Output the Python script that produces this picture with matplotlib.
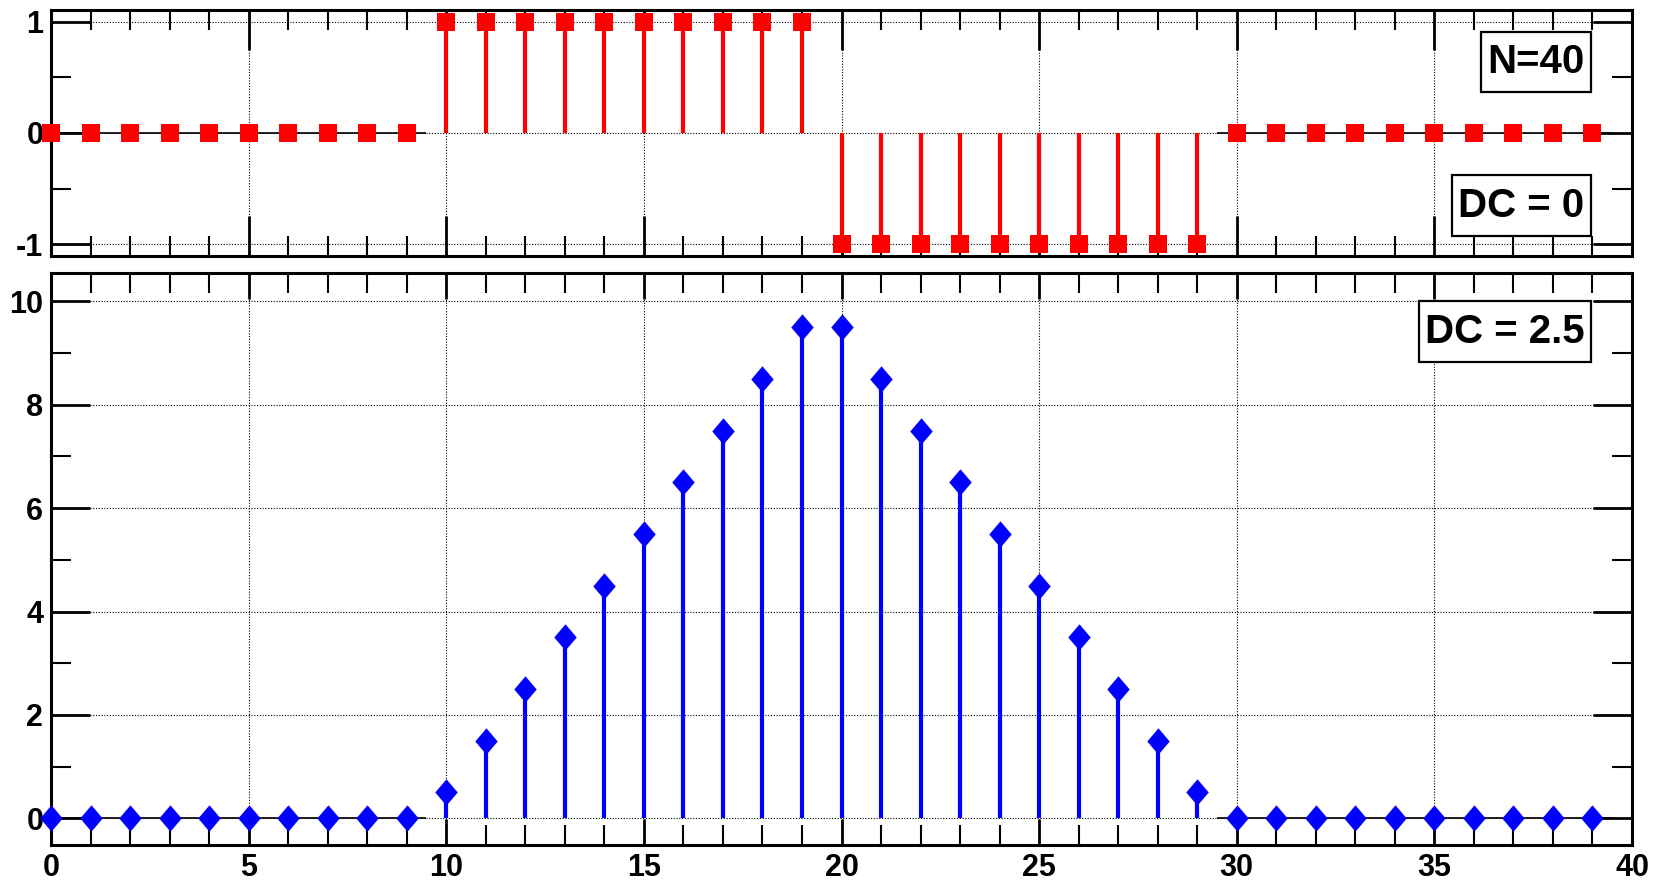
import matplotlib.pyplot as plt
from matplotlib.patches import Rectangle
from matplotlib.ticker import MultipleLocator

plt.rcParams['font.family'] = ['Liberation Sans', 'DejaVu Sans']
plt.rcParams['font.weight'] = 'bold'
plt.rcParams['axes.unicode_minus'] = False

# sample index and the two sequences
n = list(range(40))
pulse = [0, 0, 0, 0, 0, 0, 0, 0, 0, 0,
         1, 1, 1, 1, 1, 1, 1, 1, 1, 1,
         -1, -1, -1, -1, -1, -1, -1, -1, -1, -1,
         0, 0, 0, 0, 0, 0, 0, 0, 0, 0]
tri = [0, 0, 0, 0, 0, 0, 0, 0, 0, 0,
       0.5, 1.5, 2.5, 3.5, 4.5, 5.5, 6.5, 7.5, 8.5, 9.5,
       9.5, 8.5, 7.5, 6.5, 5.5, 4.5, 3.5, 2.5, 1.5, 0.5,
       0, 0, 0, 0, 0, 0, 0, 0, 0, 0]
top_labels = ['N=40', 'DC = 0']
bottom_labels = ['DC = 2.5']

W, H = 1661, 880
fig = plt.figure(figsize=(W / 100, H / 100), dpi=100)


def px_axes(x0, y0, x1, y1):
    # pixel box (from top-left) -> figure axes
    return fig.add_axes([x0 / W, 1 - y1 / H, (x1 - x0) / W, (y1 - y0) / H])


ax1 = px_axes(51, 10, 1632, 256)
ax2 = px_axes(51, 273, 1632, 845)


def style(ax, ymajor, yminor, xmaj_len, xmin_len):
    ax.set_xlim(0, 40)
    ax.xaxis.set_major_locator(MultipleLocator(5))
    ax.xaxis.set_minor_locator(MultipleLocator(1))
    ax.yaxis.set_major_locator(MultipleLocator(ymajor))
    ax.yaxis.set_minor_locator(MultipleLocator(yminor))
    ax.tick_params(axis='x', which='major', direction='in', top=True, bottom=True,
                   length=xmaj_len * 0.72, width=2.0, labelsize=22, pad=5.5)
    ax.tick_params(axis='x', which='minor', direction='in', top=True, bottom=True,
                   length=xmin_len * 0.72, width=1.5)
    ax.tick_params(axis='y', which='major', direction='in', left=True, right=True,
                   length=39 * 0.72, width=2.0, labelsize=22, pad=5.5)
    ax.tick_params(axis='y', which='minor', direction='in', left=True, right=True,
                   length=20 * 0.72, width=1.5)
    for s in ax.spines.values():
        s.set_linewidth(2.2)
    ax.grid(True, which='major', color='black', linestyle=(0, (1, 1.5)), linewidth=0.8)
    ax.set_axisbelow(True)


def label_box(ax, x0, y0, x1, y1, text):
    ax.add_patch(Rectangle((x0, y0), x1 - x0, y1 - y0, transform=ax.transAxes,
                           facecolor='white', edgecolor='black', linewidth=1.6, zorder=6))
    ax.text((x0 + x1) / 2, (y0 + y1) / 2, text, transform=ax.transAxes,
            ha='center', va='center', fontsize=29, fontweight='bold', zorder=7)


def zero_segments(ax, xs, ys):
    zx = [x for x, y in zip(xs, ys) if y == 0]
    ax.hlines([0] * len(zx), [x - 0.5 for x in zx], [x + 0.5 for x in zx],
              color='black', linewidth=1.2, zorder=3)


# top panel
style(ax1, 1, 0.5, 40, 20)
ax1.set_ylim(-1.108, 1.108)
zero_segments(ax1, n, pulse)
ax1.vlines(n, 0, pulse, color='#ff0000', linewidth=3, zorder=3)
ax1.plot(n, pulse, linestyle='none', marker='s', markersize=13,
         color='#ff0000', markeredgewidth=0, zorder=5, clip_on=False)
label_box(ax1, 0.9045, 0.667, 0.974, 0.911, top_labels[0])
label_box(ax1, 0.8862, 0.081, 0.974, 0.329, top_labels[1])
ax1.tick_params(axis='x', labelbottom=False)

# bottom panel
style(ax2, 2, 1, 26, 20)
ax2.set_ylim(-0.516, 10.55)
zero_segments(ax2, n, tri)
ax2.vlines(n, 0, tri, color='#0000ff', linewidth=3, zorder=3)
diamond = [(0, 1), (0.85, 0), (0, -1), (-0.85, 0), (0, 1)]
ax2.plot(n, tri, linestyle='none', marker=diamond, markersize=19,
         color='#0000ff', markeredgewidth=0, zorder=5, clip_on=False)
label_box(ax2, 0.8653, 0.8444, 0.974, 0.951, bottom_labels[0])

fig.savefig('out.png', dpi=100)
